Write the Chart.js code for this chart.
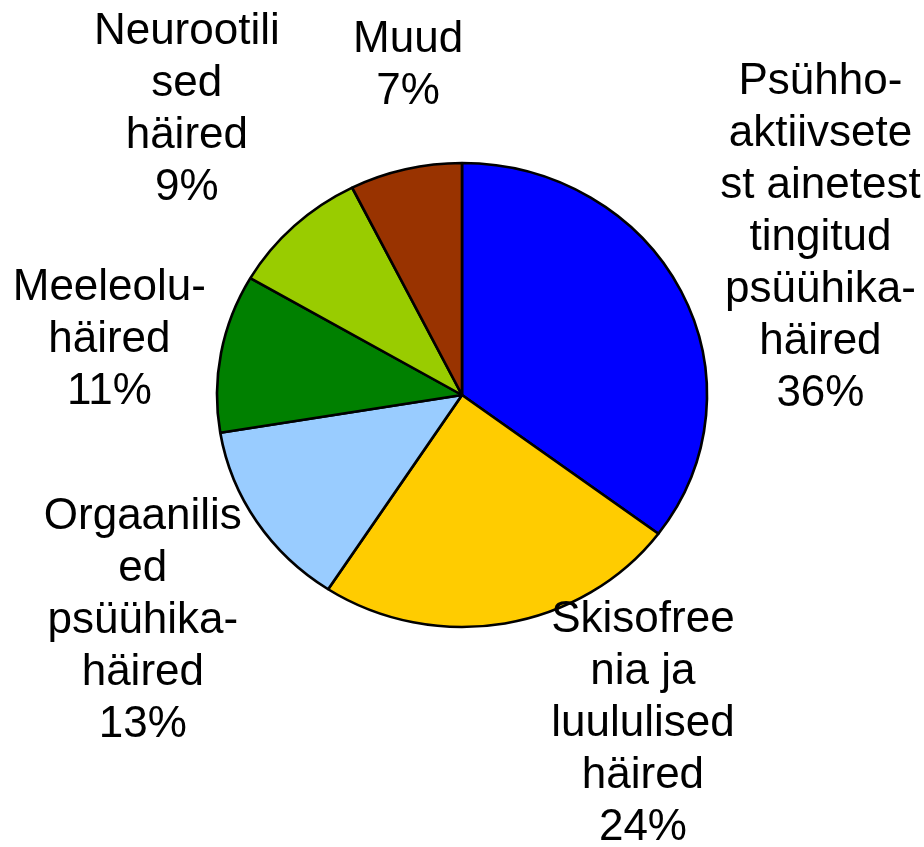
<!DOCTYPE html>
<html>
<head>
<meta charset="utf-8">
<script src="https://cdn.jsdelivr.net/npm/chart.js@4"></script>
<style>
  html, body { margin: 0; padding: 0; background: #ffffff; }
  #wrap { width: 924px; height: 847px; }
</style>
</head>
<body>
<div id="wrap"><canvas id="pie"></canvas></div>
<script>
// Andmed (sektorite suurused loetud jooniselt, sildid nagu joonisel)
const categories = [
    ['Psühho-', 'aktiivsete', 'st ainetest', 'tingitud', 'psüühika-', 'häired'],
    ['Skisofree', 'nia ja', 'luululised', 'häired'],
    ['Orgaanilis', 'ed', 'psüühika-', 'häired'],
    ['Meeleolu-', 'häired'],
    ['Neurootili', 'sed', 'häired'],
    ['Muud']
];
const shares = [35.2, 24.0, 13.2, 11.0, 9.2, 7.4];
const pctLabels = ['36%', '24%', '13%', '11%', '9%', '7%'];
const sliceColors = ['#0000FF', '#FFCC00', '#99CCFF', '#008000', '#99CC00', '#993300'];

// Siltide nihe (px) sektori keskjoonest
const labelNudge = [[37, 16], [118, -13], [-18, 42], [1, 22], [-29, -11], [29, 33]];

// Excel'i pirukas on pisut laiem kui kõrge
const stretchX = 1.056;

const ellipsePie = {
    id: 'ellipsePie',
    beforeDatasetsDraw(chart) {
        const arc = chart.getDatasetMeta(0).data[0];
        const ctx = chart.ctx;
        ctx.save();
        ctx.translate(arc.x, arc.y);
        ctx.scale(stretchX, 1);
        ctx.translate(-arc.x, -arc.y);
    },
    afterDatasetsDraw(chart) {
        chart.ctx.restore();
    }
};

// Plugin: mitmerealised sildid iga sektori juurde
const sliceLabels = {
    id: 'sliceLabels',
    afterDraw(chart) {
        const ctx = chart.ctx;
        const arcs = chart.getDatasetMeta(0).data;
        const lineHeight = 52;
        ctx.save();
        ctx.font = '44px "Liberation Sans", Arial, sans-serif';
        ctx.fillStyle = '#000000';
        ctx.textAlign = 'center';
        ctx.textBaseline = 'alphabetic';
        arcs.forEach((arc, i) => {
            const mid = (arc.startAngle + arc.endAngle) / 2;
            const dist = arc.outerRadius * 1.55;
            const cx = arc.x + Math.cos(mid) * dist + labelNudge[i][0];
            const cy = arc.y + Math.sin(mid) * dist + labelNudge[i][1];
            const lines = categories[i].concat([pctLabels[i]]);
            const firstY = cy - (lines.length - 1) * lineHeight / 2;
            lines.forEach((txt, j) => {
                ctx.fillText(txt, cx, firstY + j * lineHeight);
            });
        });
        ctx.restore();
    }
};

new Chart(document.getElementById('pie').getContext('2d'), {
    type: 'pie',
    data: {
        labels: categories.map(c => c.join(' ')),
        datasets: [{
            data: shares,
            backgroundColor: sliceColors,
            borderColor: '#000000',
            borderWidth: 2.5
        }]
    },
    options: {
        responsive: true,
        maintainAspectRatio: false,
        animation: false,
        events: [],
        radius: 232,
        layout: {
            padding: { top: 0, bottom: 57, left: 0, right: 0 }
        },
        plugins: {
            legend: { display: false },
            tooltip: { enabled: false },
            title: { display: false }
        }
    },
    plugins: [ellipsePie, sliceLabels]
});
</script>
</body>
</html>
